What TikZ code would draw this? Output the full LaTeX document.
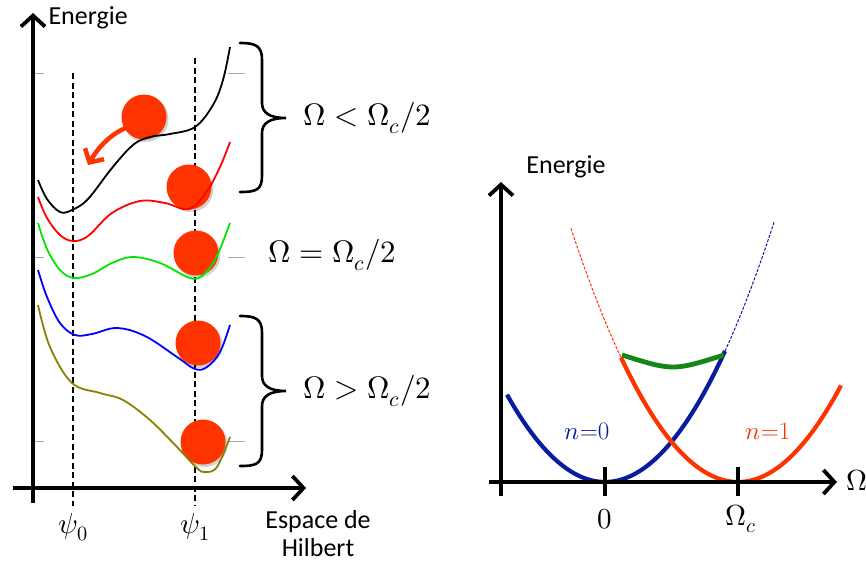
\documentclass[tikz,border=0pt]{standalone}
\usepackage{fontspec}
\usepackage{unicode-math}
\setmathfont{Latin Modern Math}
\newfontfamily\calib{Carlito}
\usetikzlibrary{arrows.meta}
\definecolor{ballred}{RGB}{255,51,0}
\definecolor{nblue}{RGB}{8,28,160}
\definecolor{nred}{RGB}{255,51,0}
\definecolor{ngreen}{RGB}{20,135,20}
\definecolor{cblack}{RGB}{0,0,0}
\definecolor{cred}{RGB}{255,0,0}
\definecolor{cgreen}{RGB}{0,230,0}
\definecolor{cblue}{RGB}{0,0,255}
\definecolor{colive}{RGB}{140,128,0}
\begin{document}
\begin{tikzpicture}[x=1pt,y=-1pt,
  axis/.style={line width=3.8pt,-{Straight Barb[length=11pt,width=24pt,line width=3.8pt]}},
  tickline/.style={line width=3.8pt},
  grayt/.style={line width=0.8pt,gray!70},
  dashv/.style={line width=2pt,dash pattern=on 6pt off 3.5pt},
  pot/.style={line width=1.8pt,smooth,tension=0.6},
  ball/.style={circle,fill=ballred,minimum size=45pt,inner sep=0pt},
  shadowb/.style={circle,fill=black,opacity=0.18,minimum size=46pt,inner sep=0pt},
  sanslab/.style={font=\calib\fontsize{26}{31}\selectfont},
  mathlab/.style={font=\fontsize{29}{34}\selectfont},
  condlab/.style={font=\fontsize{31}{36}\selectfont},
  brace/.style={line width=2.6pt,line cap=round},
  para/.style={line width=4.2pt},
  parad/.style={line width=1pt,dash pattern=on 3pt off 1.5pt},
]
\useasboundingbox (0,0) rectangle (866,562);
\clip (0,0) rectangle (866,562);

% ---------------- left panel ----------------
% gray ticks
\foreach \yy in {73,257,441}{
  \draw[grayt] (31,\yy) -- (44,\yy);
  \draw[grayt] (228,\yy) -- (245,\yy);
}
% dashed lines
\coordinate (p0t) at (73,73);  \coordinate (p0b) at (73,506);
\coordinate (p1t) at (195,58); \coordinate (p1b) at (195,506);
\draw[dashv] (p0t) -- (p0b);
\draw[dashv] (p1t) -- (p1b);

% axes
\coordinate (yb) at (33,503); \coordinate (yt) at (33,13);
\coordinate (xl) at (13,488); \coordinate (xr) at (306,488);
\draw[axis] (yb) -- (yt);
\draw[axis] (xl) -- (xr);

% balls
\foreach \n/\bx/\by in {b1/144/117,b2/189/187,b3/196/253,b4/198/343,b5/203/442}{
  \node[shadowb] at (\bx+1.5,\by+2) {};
  \node[ball] (\n) at (\bx,\by) {};
}

% potential curves
\draw[pot,cblack] plot coordinates {(38,180) (47,199) (60,212) (72,210) (88,199) (112,168) (133,145) (150,137) (170,134) (195,127) (213,105) (223,80) (230,47)};
\draw[pot,cred] plot coordinates {(38,197) (47,218) (60,235) (73,241) (88,236) (112,213) (140,201) (165,203) (189,209) (207,191) (220,167) (230,142)};
\draw[pot,cgreen] plot coordinates {(38,223) (47,249) (60,270) (74,278) (92,274) (112,263) (133,257) (160,263) (190,278) (203,275) (216,258) (230,223)};
\draw[pot,cblue] plot coordinates {(38,270) (47,297) (60,323) (75,335) (92,334) (117,328) (145,336) (177,357) (195,369) (207,367) (220,352) (230,325)};
\draw[pot,colive] plot coordinates {(38,305) (50,347) (72,383) (100,393) (123,400) (150,420) (177,447) (197,468) (205,472) (217,467) (230,437)};

% red arrow
\coordinate (arrS) at (128,127);
\coordinate (arrE) at (88,165);
\draw[line width=4.5pt,ballred,-{Straight Barb[length=10pt,width=22pt,line width=4.5pt]}]
  (arrS) .. controls (112,133) and (99,146) .. (arrE);

% braces
\draw[brace] (240,43) .. controls (256,43) and (262,46) .. (262,60) -- (262,103)
  .. controls (262,113) and (270,118) .. (286,118)
  .. controls (270,118) and (262,123) .. (262,133) -- (262,176)
  .. controls (262,190) and (256,192) .. (240,192);
\draw[brace] (240,316) .. controls (256,316) and (262,319) .. (262,333) -- (262,376)
  .. controls (262,386) and (270,391) .. (286,391)
  .. controls (270,391) and (262,396) .. (262,406) -- (262,450)
  .. controls (262,464) and (256,466) .. (240,466);

% labels
\node[sanslab,anchor=west] (en1) at (45,18) {Energie};
\node[sanslab,align=center,inner sep=0pt] (esp) at (318,534) {Espace de\\[-3pt]Hilbert};
\node[mathlab] (psi0) at (73,527) {$\psi_0$};
\node[mathlab] (psi1) at (195,527) {$\psi_1$};
\node[condlab,anchor=west] (c1) at (300,118) {$\Omega<\Omega_c/2$};
\node[condlab,anchor=west] (c2) at (265,255) {$\Omega=\Omega_c/2$};
\node[condlab,anchor=west] (c3) at (300,391) {$\Omega>\Omega_c/2$};

% ---------------- right panel ----------------
\draw[para,nblue] plot[domain=507:725,samples=60] (\x,{482-0.0091*(\x-605)*(\x-605)});
\draw[parad,nblue] plot[domain=725:774,samples=20] (\x,{482-0.0091*(\x-605)*(\x-605)});
\draw[para,nred] plot[domain=621:841,samples=60] (\x,{482-0.0091*(\x-738)*(\x-738)});
\draw[parad,nred] plot[domain=571:621,samples=20] (\x,{482-0.0091*(\x-738)*(\x-738)});
\coordinate (gL) at (622,355); \coordinate (gR) at (724,355);
\draw[para,ngreen,line width=4.8pt] (gL) .. controls (673,371) .. (gR);

\coordinate (ryb) at (501,496); \coordinate (ryt) at (501,182);
\coordinate (rxl) at (489,482); \coordinate (rxr) at (837,482);
\draw[axis] (ryb) -- (ryt);
\draw[axis] (rxl) -- (rxr);
\coordinate (t0a) at (605,467); \coordinate (t0b) at (605,496);
\coordinate (tca) at (738,467); \coordinate (tcb) at (738,496);
\draw[tickline] (t0a) -- (t0b);
\draw[tickline] (tca) -- (tcb);

\node[sanslab] (en2) at (566,167) {Energie};
\node[mathlab] (zero) at (605,519) {$0$};
\node[mathlab] (omc) at (741,519) {$\Omega_c$};
\node[mathlab,anchor=west] (om) at (843,480) {$\Omega$};
\node[font=\fontsize{25}{29}\selectfont,text=nblue] (n0) at (587,431) {$n$=0};
\node[font=\fontsize{25}{29}\selectfont,text=nred] (n1) at (768,431) {$n$=1};
\end{tikzpicture}
\end{document}
